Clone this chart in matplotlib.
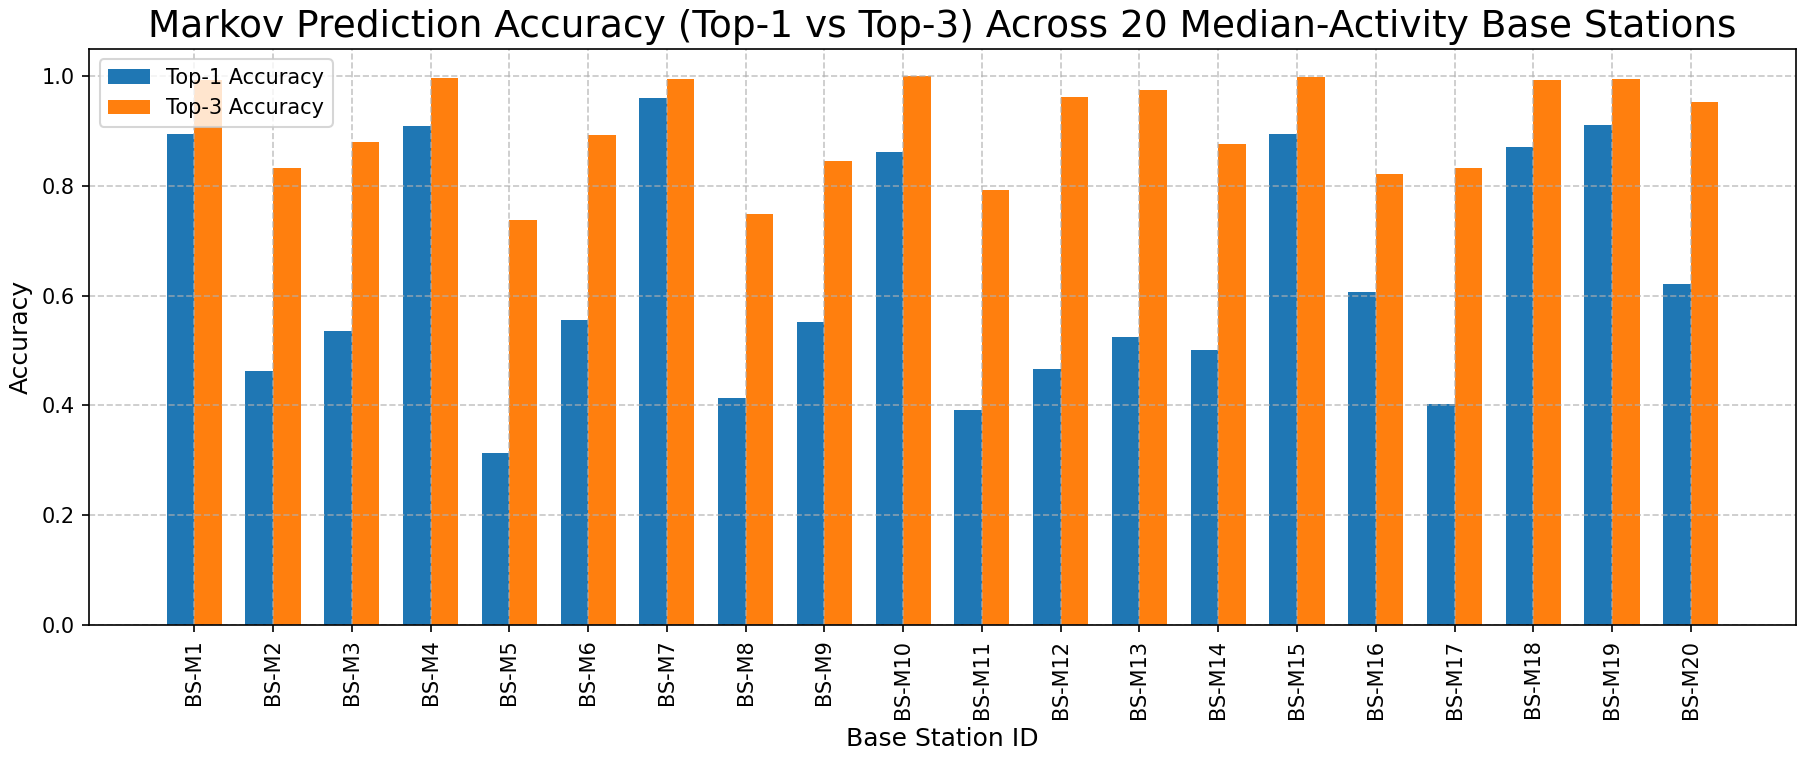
import matplotlib
matplotlib.use("Agg")
import matplotlib.pyplot as plt
import numpy as np

# Base stations (median-activity sample) and Markov accuracies
stations = [f"BS-M{i}" for i in range(1, 21)]
top1_acc = [0.894, 0.462, 0.535, 0.908, 0.313, 0.556, 0.959, 0.414, 0.552, 0.861,
            0.392, 0.467, 0.524, 0.500, 0.894, 0.607, 0.403, 0.871, 0.910, 0.621]
top3_acc = [0.993, 0.832, 0.880, 0.997, 0.737, 0.892, 0.995, 0.748, 0.845, 0.999,
            0.792, 0.962, 0.974, 0.876, 0.998, 0.821, 0.832, 0.992, 0.994, 0.952]

x = np.arange(len(stations))
width = 0.35

fig, ax = plt.subplots(figsize=(1807 / 150, 760 / 150), dpi=150)
ax.bar(x - width / 2, top1_acc, width, label="Top-1 Accuracy", color="#1f77b4")
ax.bar(x + width / 2, top3_acc, width, label="Top-3 Accuracy", color="#ff7f0e")

ax.set_xticks(x)
ax.set_xticklabels(stations, rotation=90, fontsize=10)
ax.set_xlabel("Base Station ID", fontsize=12)
ax.set_ylabel("Accuracy", fontsize=12)
ax.set_title("Markov Prediction Accuracy (Top-1 vs Top-3) Across 20 Median-Activity Base Stations",
             fontsize=18)
ax.legend(loc="upper left", fontsize=10)
ax.grid(True, linestyle="--", alpha=0.7)

fig.subplots_adjust(left=0.0493, right=0.9939, bottom=0.1776, top=0.9355)
fig.savefig("out.png", dpi=150)
